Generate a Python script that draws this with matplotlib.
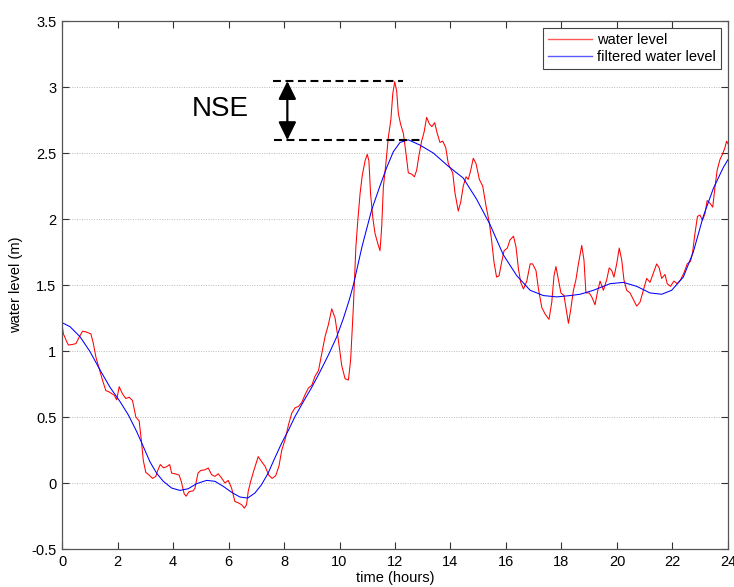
import matplotlib
matplotlib.use("Agg")
import matplotlib.pyplot as plt

plt.rcParams['font.family'] = ['Liberation Sans', 'DejaVu Sans']

# measured water level (m) against time (hours)
time_raw = [0.00, 0.05, 0.17, 0.23, 0.38, 0.50, 0.62, 0.74, 0.86, 1.04, 1.13, 1.22, 1.34, 1.46,
            1.58, 1.70, 1.88, 1.97, 2.06, 2.18, 2.30, 2.42, 2.54, 2.66, 2.78, 2.86, 2.93, 3.02,
            3.14, 3.26, 3.38, 3.44, 3.54, 3.66, 3.78, 3.88, 3.95, 4.07, 4.22, 4.30, 4.40, 4.47,
            4.58, 4.72, 4.79, 4.90, 5.00, 5.15, 5.27, 5.39, 5.51, 5.63, 5.75, 5.87, 5.99, 6.11,
            6.23, 6.35, 6.47, 6.57, 6.65, 6.71, 6.80, 6.92, 7.07, 7.20, 7.32, 7.45, 7.57, 7.70,
            7.82, 7.92, 8.04, 8.16, 8.28, 8.40, 8.52, 8.64, 8.76, 8.88, 9.00, 9.12, 9.24, 9.36,
            9.48, 9.60, 9.72, 9.84, 9.96, 10.08, 10.20, 10.32, 10.40, 10.50, 10.59, 10.66, 10.74,
            10.82, 10.92, 11.00, 11.06, 11.12, 11.20, 11.28, 11.40, 11.46, 11.52, 11.58, 11.68,
            11.76, 11.85, 11.92, 11.99, 12.06, 12.12, 12.20, 12.30, 12.40, 12.48, 12.60, 12.70,
            12.78, 12.87, 12.96, 13.05, 13.14, 13.24, 13.33, 13.43, 13.52, 13.62, 13.72, 13.83,
            13.92, 13.96, 14.08, 14.16, 14.28, 14.37, 14.46, 14.56, 14.64, 14.73, 14.82, 14.92,
            15.04, 15.16, 15.28, 15.40, 15.48, 15.57, 15.66, 15.75, 15.84, 15.93, 16.05, 16.14,
            16.27, 16.36, 16.45, 16.53, 16.63, 16.75, 16.87, 16.96, 17.08, 17.17, 17.29, 17.41,
            17.55, 17.65, 17.73, 17.80, 17.89, 17.98, 18.09, 18.19, 18.25, 18.33, 18.43, 18.52,
            18.61, 18.73, 18.81, 18.88, 19.00, 19.09, 19.21, 19.29, 19.39, 19.51, 19.63, 19.72,
            19.81, 19.89, 19.99, 20.08, 20.17, 20.25, 20.35, 20.47, 20.59, 20.71, 20.83, 20.95,
            21.07, 21.19, 21.31, 21.43, 21.52, 21.61, 21.73, 21.81, 21.93, 22.05, 22.17, 22.29,
            22.41, 22.53, 22.65, 22.72, 22.81, 22.90, 22.99, 23.08, 23.17, 23.25, 23.35, 23.45,
            23.53, 23.61, 23.71, 23.80, 23.89, 23.95, 24.00]
level_raw = [1.20, 1.13, 1.07, 1.045, 1.05, 1.056, 1.106, 1.15, 1.145, 1.13, 1.056, 0.955, 0.866,
             0.778, 0.70, 0.69, 0.665, 0.63, 0.73, 0.675, 0.64, 0.65, 0.625, 0.50, 0.47, 0.32,
             0.17, 0.08, 0.06, 0.035, 0.05, 0.09, 0.14, 0.115, 0.125, 0.14, 0.075, 0.07, 0.06,
             0.01, -0.08, -0.10, -0.065, -0.06, -0.04, 0.075, 0.095, 0.10, 0.114, 0.063, 0.05,
             0.07, 0.038, 0.0, 0.02, -0.038, -0.14, -0.15, -0.164, -0.19, -0.164, -0.063, 0.013,
             0.10, 0.20, 0.16, 0.126, 0.06, 0.035, 0.055, 0.13, 0.25, 0.33, 0.44, 0.53, 0.57,
             0.58, 0.61, 0.67, 0.72, 0.74, 0.81, 0.85, 0.98, 1.11, 1.20, 1.32, 1.25, 1.08, 0.89,
             0.79, 0.78, 0.93, 1.335, 1.79, 1.99, 2.19, 2.33, 2.44, 2.49, 2.44, 2.19, 2.01, 1.89,
             1.80, 1.76, 1.94, 2.24, 2.44, 2.62, 2.75, 2.95, 3.04, 2.97, 2.80, 2.72, 2.65, 2.49,
             2.35, 2.34, 2.32, 2.37, 2.49, 2.59, 2.66, 2.77, 2.72, 2.70, 2.73, 2.65, 2.58, 2.59,
             2.54, 2.42, 2.40, 2.35, 2.20, 2.06, 2.13, 2.25, 2.32, 2.30, 2.37, 2.46, 2.42, 2.30,
             2.25, 2.10, 1.97, 1.84, 1.67, 1.56, 1.57, 1.67, 1.76, 1.78, 1.84, 1.87, 1.79, 1.62,
             1.52, 1.47, 1.53, 1.66, 1.66, 1.61, 1.47, 1.33, 1.28, 1.24, 1.37, 1.57, 1.64, 1.54,
             1.44, 1.42, 1.29, 1.21, 1.31, 1.46, 1.54, 1.66, 1.80, 1.69, 1.44, 1.44, 1.41, 1.35,
             1.44, 1.53, 1.46, 1.54, 1.63, 1.61, 1.56, 1.66, 1.78, 1.69, 1.54, 1.46, 1.44, 1.39,
             1.34, 1.37, 1.46, 1.55, 1.52, 1.59, 1.66, 1.63, 1.55, 1.58, 1.51, 1.49, 1.53, 1.51,
             1.54, 1.59, 1.66, 1.68, 1.74, 1.89, 2.02, 2.03, 1.99, 2.04, 2.14, 2.12, 2.09, 2.24,
             2.37, 2.45, 2.49, 2.54, 2.59, 2.57]

# low-pass filtered water level
time_filt = [0.00, 0.29, 0.65, 1.01, 1.37, 1.73, 2.09, 2.39, 2.69, 2.93, 3.17, 3.41, 3.65, 3.95,
             4.25, 4.55, 4.85, 5.21, 5.51, 5.81, 6.11, 6.41, 6.69, 6.95, 7.19, 7.43, 7.67, 7.91,
             8.16, 8.40, 8.70, 9.00, 9.30, 9.60, 9.90, 10.14, 10.35, 10.50, 10.81, 11.16, 11.44,
             11.70, 11.94, 12.18, 12.48, 12.90, 13.38, 13.92, 14.46, 14.94, 15.42, 15.90, 16.39,
             16.87, 17.35, 17.83, 18.31, 18.67, 19.15, 19.75, 20.23, 20.71, 21.19, 21.61, 21.97,
             22.39, 22.75, 23.11, 23.47, 23.83, 24.00]
level_filt = [1.215, 1.184, 1.108, 0.995, 0.856, 0.725, 0.617, 0.516, 0.39, 0.276, 0.16, 0.074,
              0.013, -0.038, -0.056, -0.043, -0.005, 0.020, 0.013, -0.025, -0.07, -0.106, -0.114,
              -0.076, -0.013, 0.076, 0.19, 0.30, 0.40, 0.505, 0.617, 0.725, 0.844, 0.97, 1.108,
              1.247, 1.386, 1.50, 1.79, 2.07, 2.24, 2.39, 2.51, 2.58, 2.60, 2.56, 2.50, 2.40,
              2.31, 2.15, 1.96, 1.73, 1.57, 1.46, 1.42, 1.41, 1.42, 1.43, 1.46, 1.51, 1.52, 1.49,
              1.44, 1.43, 1.46, 1.56, 1.75, 2.02, 2.23, 2.39, 2.45]

# NSE marker: peak of measured level vs. peak of filtered level
nse_time = 8.12
nse_top = 3.045
nse_bottom = 2.598
nse_top_span = (7.61, 12.30)
nse_bottom_span = (7.65, 12.96)

x_ticks = list(range(0, 25, 2))
y_ticks = [-0.5, 0, 0.5, 1, 1.5, 2, 2.5, 3, 3.5]
y_tick_labels = ['-0.5', '0', '0.5', '1', '1.5', '2', '2.5', '3', '3.5']

fig = plt.figure(figsize=(7.34, 5.87), dpi=100)
ax = fig.add_axes([0.0845, 0.0647, 0.9073, 0.8995])

ax.plot(time_raw, level_raw, color='#ff0000', lw=0.75, label='water level')
ax.plot(time_filt, level_filt, color='#0000ff', lw=0.75, label='filtered water level')

ax.set_xlim(0, 24)
ax.set_ylim(-0.5, 3.5)
ax.set_xticks(x_ticks)
ax.set_yticks(y_ticks)
ax.set_yticklabels(y_tick_labels)
ax.tick_params(direction='in', length=5, width=0.8, colors='#333333',
               top=True, right=True, labelsize=10.5, labelcolor='black', pad=4)
for sp in ax.spines.values():
    sp.set_color('#555555')
    sp.set_linewidth(0.9)

ax.yaxis.grid(True, linestyle=(0, (1, 1.5)), color='#bbbbbb', lw=0.7)
ax.set_axisbelow(True)

ax.set_xlabel('time (hours)', fontsize=10.5, labelpad=2)
ax.set_ylabel('water level (m)', fontsize=10.5, labelpad=6)

# NSE annotation
ax.hlines(nse_top, *nse_top_span, colors='black', lw=1.5, linestyles=(0, (3.8, 2.2)))
ax.hlines(nse_bottom, *nse_bottom_span, colors='black', lw=1.5, linestyles=(0, (3.8, 2.2)))
ax.annotate('', xy=(nse_time, nse_top), xytext=(nse_time, nse_bottom),
            arrowprops=dict(arrowstyle='<|-|>,head_length=0.55,head_width=0.27',
                            color='black', lw=1.6, mutation_scale=20,
                            shrinkA=0, shrinkB=0))
ax.text(5.7, 2.83, 'NSE', fontsize=20, ha='center', va='center')

leg = ax.legend(loc='upper right', fontsize=10.5, handlelength=3.0, fancybox=False,
                framealpha=1, edgecolor='#444444', borderaxespad=0.5,
                borderpad=0.3, labelspacing=0.25, handletextpad=0.4)
leg.get_frame().set_linewidth(0.8)
for line, c in zip(leg.get_lines(), ['#ff5a5a', '#5a5aff']):
    line.set_color(c)
    line.set_linewidth(1.0)

fig.savefig('out.png', dpi=100)
